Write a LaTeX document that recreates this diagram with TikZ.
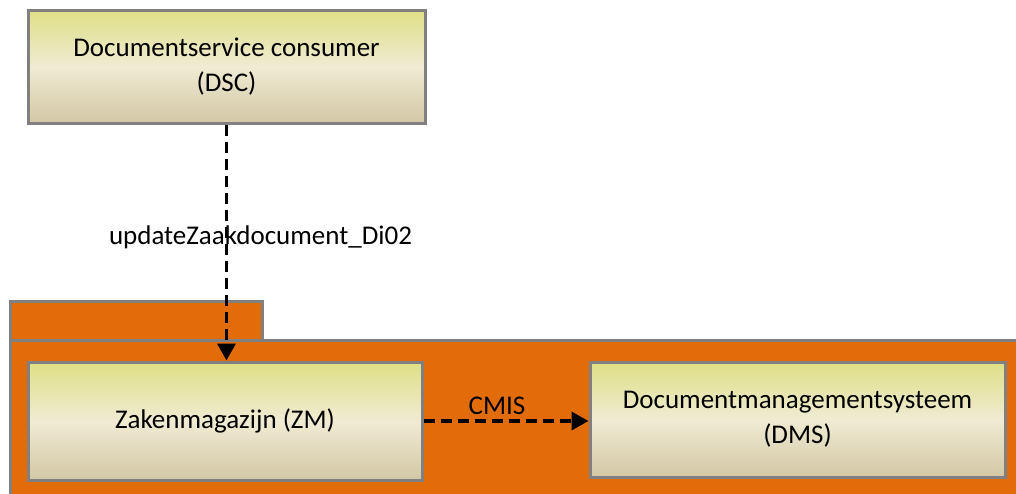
\documentclass[tikz,border=0pt]{standalone}
\usepackage{fontspec}
\setmainfont{Carlito}
\usepackage{xcolor}
\usetikzlibrary{shapes, arrows.meta, positioning}

\definecolor{pkgorange}{HTML}{E36C0A}
\definecolor{bordergray}{HTML}{808080}
\definecolor{comptop}{HTML}{DFDF86}
\definecolor{compmid}{HTML}{F0EBD3}
\definecolor{compbot}{HTML}{D3C7A5}

\begin{document}
\begin{tikzpicture}[x=1pt, y=-1pt,
            comp/.style={draw=bordergray, line width=3pt, rectangle, top color=comptop, bottom color=compbot, middle color=compmid, align=center, font=\fontsize{27}{35}\selectfont, inner sep=0pt},
            pkg/.style={draw=bordergray, line width=3pt, fill=pkgorange},
            flow/.style={-{Triangle[length=17pt, width=18pt]}, line width=3.5pt, dash pattern=on 11pt off 6pt},
            lbl/.style={font=\fontsize{27}{32}\selectfont, inner sep=0pt}]

            \useasboundingbox (0,0) rectangle (1016,493);
            \clip (0,0) rectangle (1016,493);

            % package
            \draw[pkg] (10,301) rectangle (262,340);
            \draw[pkg] (10,340) rectangle (1030,510);

            \node[comp, minimum width=397pt, minimum height=113pt] (dsc) at (226.5,66.5) {Documentservice consumer\\(DSC)};
            \node[comp, minimum width=394pt, minimum height=118pt] (zm) at (225,421) {Zakenmagazijn (ZM)};
            \node[comp, minimum width=415pt, minimum height=115pt] (dms) at (797.5,419.5) {Documentmanagementsysteem\\(DMS)};

            \draw[flow] (dsc.south) -- (dsc.south |- zm.north) node[lbl, pos=0.48, xshift=34pt] {updateZaakdocument\_Di02};
            \draw[flow] (zm.east) -- (zm.east -| dms.west) node[lbl, midway, above=5pt, xshift=-9pt] {CMIS};
        \end{tikzpicture}
\end{document}
